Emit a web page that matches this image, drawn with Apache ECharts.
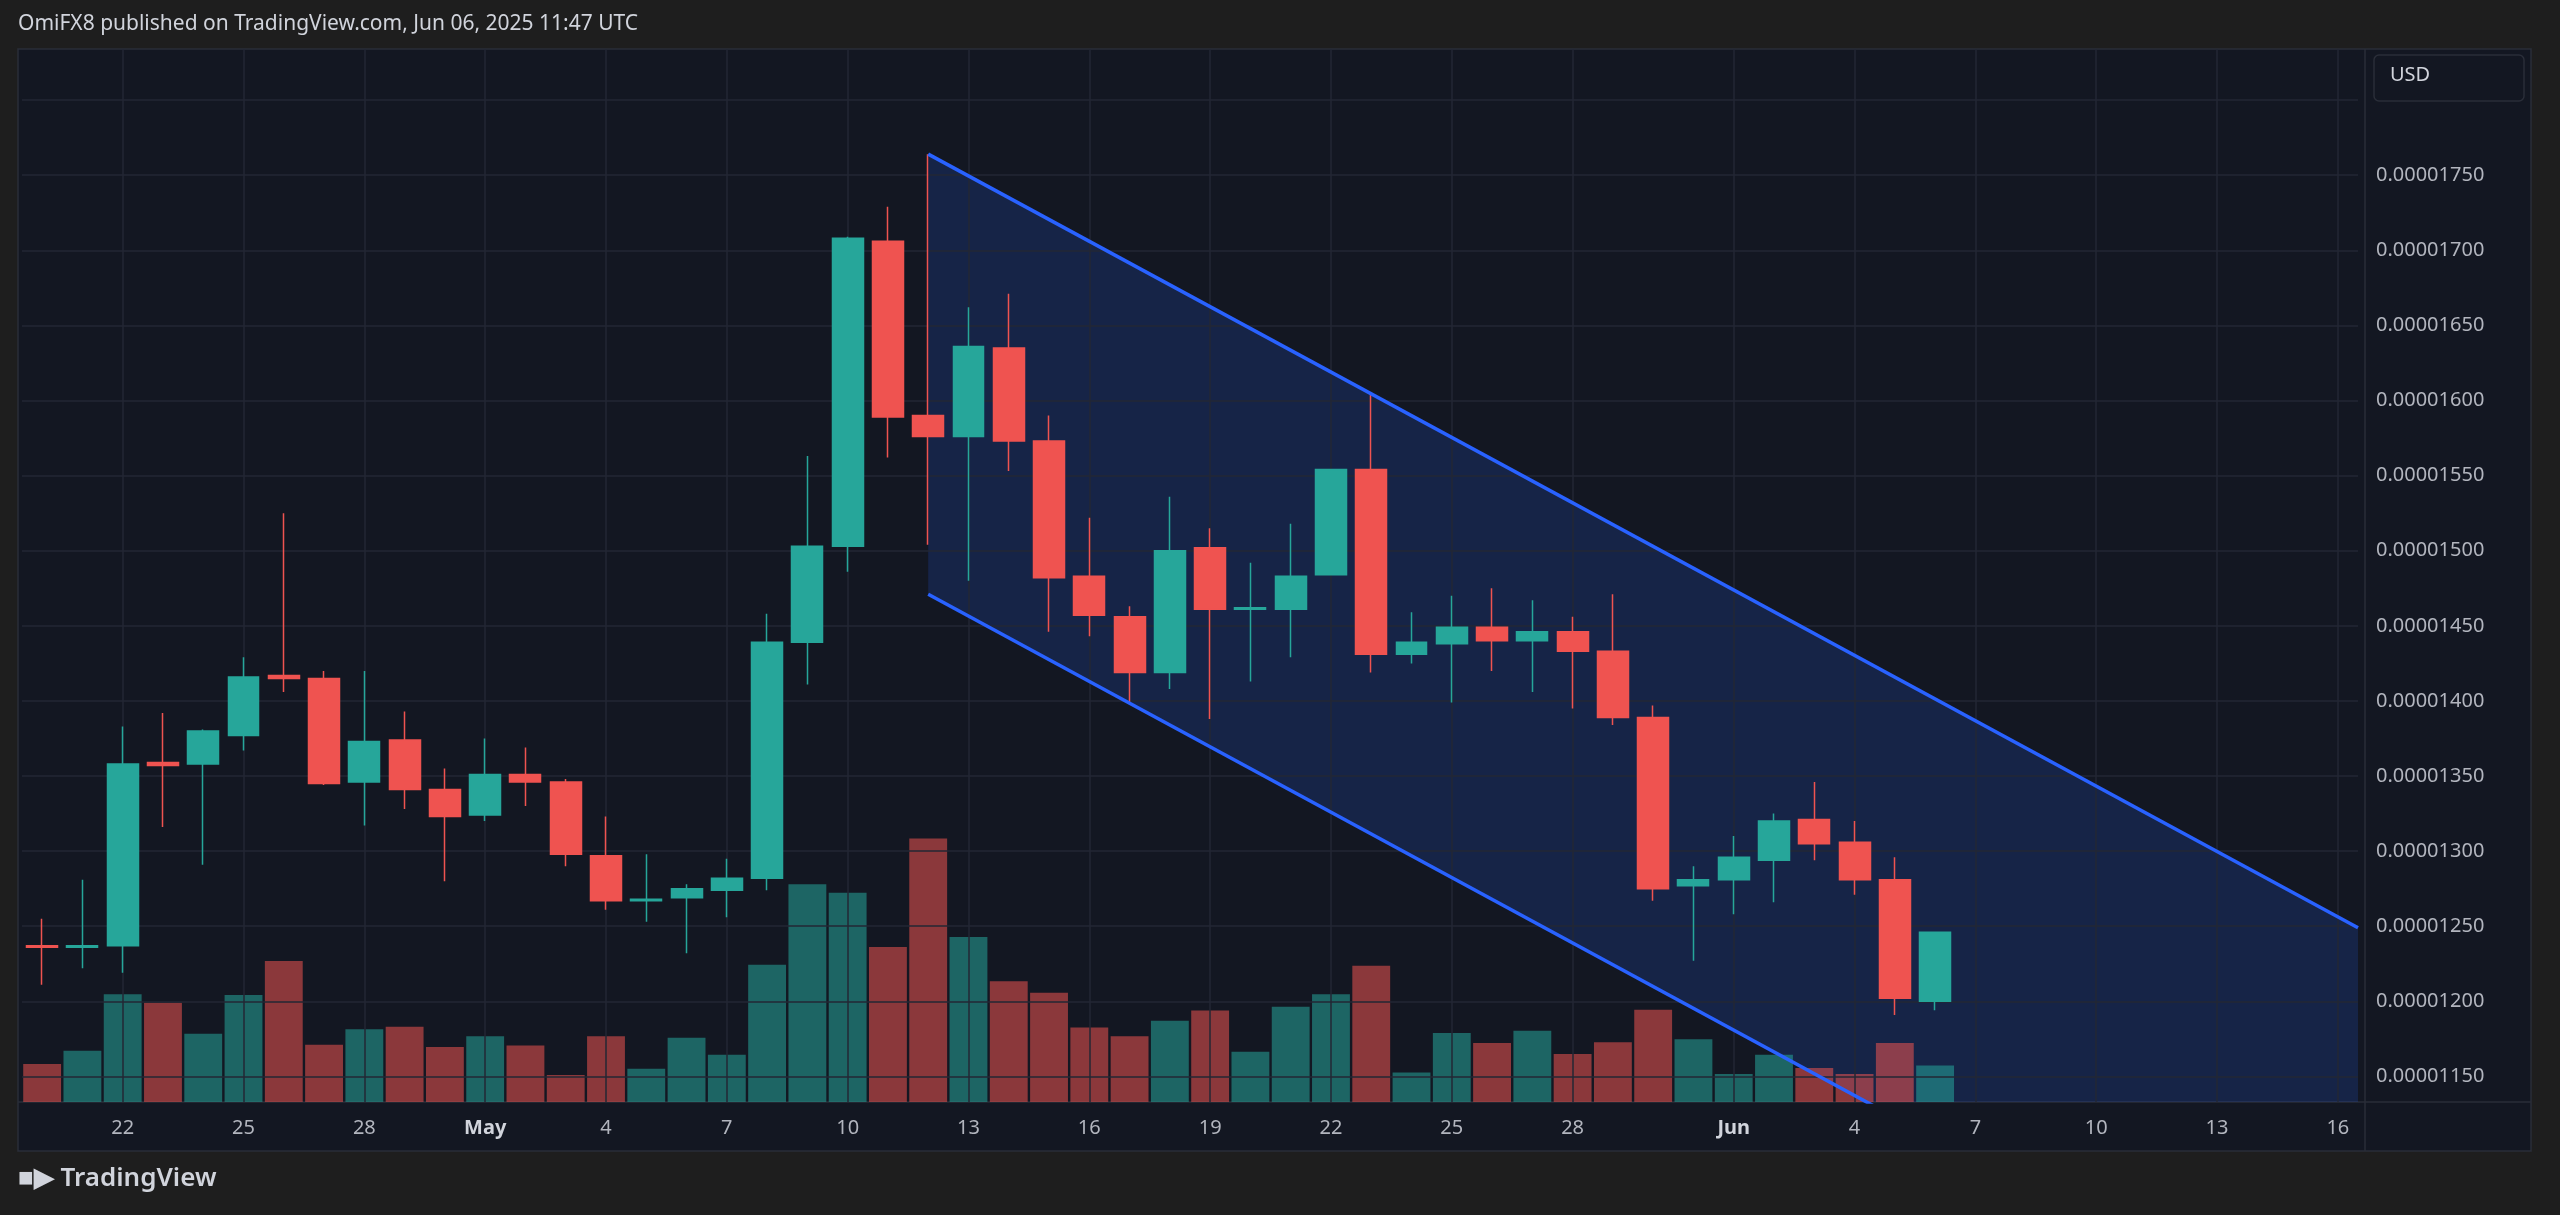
<!DOCTYPE html>
<html>
<head>
<meta charset="utf-8">
<script src="https://cdn.jsdelivr.net/npm/echarts@6/dist/echarts.min.js"></script>
<style>
  html, body { margin: 0; padding: 0; background: #1e1e1e; }
  #main { width: 2560px; height: 1215px; }
</style>
</head>
<body>
<div id="main"></div>
<script>
// prices in units of 1e-8 USD
var DATES = ['Apr 20','Apr 21','Apr 22','Apr 23','Apr 24','Apr 25','Apr 26','Apr 27','Apr 28','Apr 29','Apr 30',
    'May 1','May 2','May 3','May 4','May 5','May 6','May 7','May 8','May 9','May 10','May 11','May 12','May 13',
    'May 14','May 15','May 16','May 17','May 18','May 19','May 20','May 21','May 22','May 23','May 24','May 25',
    'May 26','May 27','May 28','May 29','May 30','May 31','Jun 1','Jun 2','Jun 3','Jun 4','Jun 5','Jun 6',
    'Jun 7','Jun 8','Jun 9','Jun 10','Jun 11','Jun 12','Jun 13','Jun 14','Jun 15','Jun 16'];
var OPEN  = [1237,1236,1237,1359,1358,1377,1417,1415,1346,1374,1341,1324,1351,1346,1297,1267,1269,1274,1282,1439,1503,1706,1590,1576,1635,1573,1483,1456,1419,1502,1461,1461,1484,1554,1431,1438,1449,1440,1446,1433,1389,1277,1281,1294,1321,1306,1281,1200];
var CLOSE = [1236,1237,1358,1357,1380,1416,1415,1345,1373,1341,1323,1351,1346,1298,1267,1268,1275,1282,1439,1503,1708,1589,1576,1636,1573,1482,1457,1419,1500,1461,1462,1483,1554,1431,1439,1449,1440,1446,1433,1389,1275,1281,1296,1320,1305,1281,1202,1246];
var LOW   = [1211,1222,1219,1316,1291,1367,1406,1344,1317,1328,1280,1320,1330,1290,1261,1253,1232,1256,1274,1411,1486,1562,1504,1480,1553,1446,1443,1398,1408,1388,1413,1429,1484,1419,1425,1399,1420,1406,1395,1384,1267,1227,1258,1266,1294,1271,1191,1194];
var HIGH  = [1255,1281,1383,1392,1381,1429,1525,1420,1420,1393,1355,1375,1369,1348,1323,1298,1278,1295,1458,1563,1709,1729,1764,1662,1671,1590,1522,1463,1536,1515,1492,1518,1554,1605,1459,1470,1475,1467,1456,1471,1397,1290,1310,1325,1346,1320,1296,1246];
var VOLUME = [49,66,139,128,88,138,182,74,94,97,71,85,73,35,85,43,83,61,177,281,270,200,340,213,156,141,96,85,105,118,65,123,139,176,38,89,76,92,62,77,119,81,36,61,44,36,76,47];
var PRICE_TICKS = [1150,1200,1250,1300,1350,1400,1450,1500,1550,1600,1650,1700,1750,1800];
var PRICE_LABELS = [1150,1200,1250,1300,1350,1400,1450,1500,1550,1600,1650,1700,1750];
var LABEL_DAYS = ['Apr 22','Apr 25','Apr 28','May 1','May 4','May 7','May 10','May 13','May 16','May 19','May 22',
    'May 25','May 28','Jun 1','Jun 4','Jun 7','Jun 10','Jun 13','Jun 16'];
// channel: [index, price] of upper and lower rails
var CHANNEL_UPPER = [[22, 1764], [57.5, 1249]];
var CHANNEL_LOWER = [[22, 1471], [57.5, 956]];

var UP = '#26a69a', DOWN = '#ef5350';

var chart = echarts.init(document.getElementById('main'));

var candles = OPEN.map(function (o, i) { return [o, CLOSE[i], LOW[i], HIGH[i]]; });
var volumes = VOLUME.map(function (v, i) {
    return { value: v, itemStyle: { color: CLOSE[i] >= OPEN[i] ? 'rgba(38,166,154,0.55)' : 'rgba(239,83,80,0.55)' } };
});
var labelIdx = LABEL_DAYS.map(function (d) { return DATES.indexOf(d); });

// horizontal grid lines carry the price labels (shown at the line end, in the price scale area)
var gridLines = PRICE_TICKS.map(function (v) {
    return { yAxis: v, label: { show: PRICE_LABELS.indexOf(v) >= 0 } };
}).concat(labelIdx.map(function (i) { return { xAxis: i, label: { show: false } }; }));

var option = {
    backgroundColor: '#1e1e1e',
    animation: false,
    graphic: [
        { type: 'rect', shape: { x: 18, y: 49, width: 2513, height: 1102 },
          style: { fill: '#131722', stroke: '#2a2e39', lineWidth: 1.5 }, z: -10 },
        { type: 'line', shape: { x1: 18, y1: 1102, x2: 2531, y2: 1102 }, style: { stroke: '#2a2e39', lineWidth: 1.5 }, z: -9 },
        { type: 'line', shape: { x1: 2365, y1: 49, x2: 2365, y2: 1151 }, style: { stroke: '#2a2e39', lineWidth: 1.5 }, z: -9 },
        { type: 'text', left: 18, top: 14, style: { text: 'OmiFX8 published on TradingView.com, Jun 06, 2025 11:47 UTC',
          fill: '#d1d4dc', font: '21px "Noto Sans", sans-serif' } },
        { type: 'rect', shape: { x: 2374, y: 55, width: 150, height: 46, r: 5 },
          style: { fill: '#131722', stroke: '#2a2e39', lineWidth: 1.5 }, z: 10 },
        { type: 'text', left: 2390, top: 65, style: { text: 'USD', fill: '#d1d4dc', font: '20px "Noto Sans", sans-serif' }, z: 11 },
        { type: 'text', left: 18, top: 1166, style: { text: '\u25A0\u25B6 TradingView', fill: '#d1d4dc',
          font: '600 26px "Noto Sans", sans-serif' } }
    ],
    grid: { left: 22, right: 2560 - 2358, top: 49, bottom: 1215 - 1102 },
    xAxis: [
        { type: 'category', data: DATES, boundaryGap: true,
          axisLine: { show: false }, axisTick: { show: false }, splitLine: { show: false },
          axisLabel: {
              interval: function (i, v) { return LABEL_DAYS.indexOf(v) >= 0; },
              margin: 16, color: '#b2b5be', fontSize: 20, fontFamily: 'Noto Sans',
              formatter: function (v) {
                  var p = v.split(' ');
                  return p[1] === '1' ? '{b|' + p[0] + '}' : p[1];
              },
              rich: { b: { fontWeight: 'bold', fontSize: 20, color: '#d1d4dc', fontFamily: 'Noto Sans' } }
          } },
        { type: 'value', min: -0.5, max: 57.5, show: false }
    ],
    yAxis: [
        { type: 'value', min: 1133, max: 1834, show: false },
        { type: 'value', min: 0, max: 1359, show: false }
    ],
    series: [
        { type: 'custom', xAxisIndex: 1, yAxisIndex: 0, z: 1, silent: true, clip: true,
          data: [0],
          renderItem: function (params, api) {
              var pts = [api.coord(CHANNEL_UPPER[0]), api.coord(CHANNEL_UPPER[1]),
                         api.coord(CHANNEL_LOWER[1]), api.coord(CHANNEL_LOWER[0])];
              return { type: 'polygon', shape: { points: pts },
                       clipPath: { type: 'rect', shape: { x: params.coordSys.x, y: params.coordSys.y,
                           width: params.coordSys.width, height: params.coordSys.height } },
                       style: { fill: 'rgba(41,98,255,0.17)' } };
          } },
        { type: 'line', xAxisIndex: 1, yAxisIndex: 0, z: 2, data: [],
          markLine: { silent: true, symbol: 'none',
              label: { position: 'end', distance: 18, color: '#b2b5be', fontSize: 20, fontFamily: 'Noto Sans',
                  formatter: function (p) { return '0.0000' + p.value; } },
              lineStyle: { color: '#232734', width: 1.5, type: 'solid' }, data: gridLines } },
        { type: 'bar', xAxisIndex: 0, yAxisIndex: 1, data: volumes, barWidth: '94%', z: 3 },
        { type: 'candlestick', xAxisIndex: 0, yAxisIndex: 0, data: candles, barWidth: '78%', z: 5,
          itemStyle: { color: UP, color0: DOWN, borderColor: UP, borderColor0: DOWN, borderWidth: 1.5 } },
        { type: 'line', xAxisIndex: 1, yAxisIndex: 0, data: CHANNEL_UPPER, symbol: 'none', z: 6,
          lineStyle: { color: '#2962ff', width: 3.5 } },
        { type: 'line', xAxisIndex: 1, yAxisIndex: 0, data: CHANNEL_LOWER, symbol: 'none', z: 6,
          lineStyle: { color: '#2962ff', width: 3.5 } }
    ]
};
chart.setOption(option);
</script>
</body>
</html>
